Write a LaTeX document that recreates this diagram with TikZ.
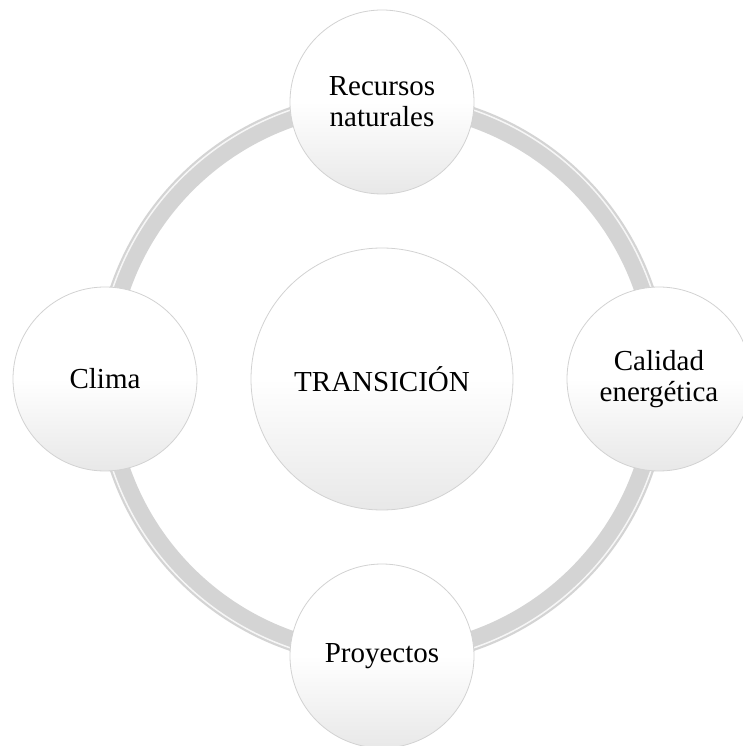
\documentclass[tikz,border=0pt]{standalone}
\usepackage{fontspec}
\setmainfont{Liberation Serif}
\usepackage{tikz}
\definecolor{ringgr}{RGB}{212,212,212}
\definecolor{botgr}{RGB}{232,232,232}
\tikzset{bubble/.style={circle, draw=gray!35, line width=0.8pt, top color=white, bottom color=botgr, middle color=white, align=center, inner sep=0pt, font=\fontsize{29}{31}\selectfont}}

\begin{document}
\begin{tikzpicture}[x=1pt, y=1pt]
\useasboundingbox (-382,-367) rectangle (361,379);
\node[bubble, minimum size=262pt] (tr) at (0,0) {TRANSICIÓN};
% ring behind the outer bubbles
\draw[ringgr, line width=20pt] (tr.center) circle (277pt);
\draw[white, line width=1.5pt, opacity=0.8] (tr.center) circle (284pt);
\foreach \n/\a/\txt in {rec/90/{Recursos\\naturales}, cal/0/{Calidad\\energética}, pro/270/Proyectos, cli/180/Clima}{
\node[bubble, minimum size=184pt] (\n) at (\a:277pt) {\txt};
}
\end{tikzpicture}
\end{document}
